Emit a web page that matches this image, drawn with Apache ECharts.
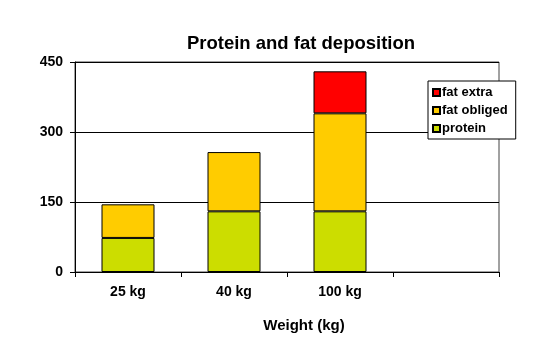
<!DOCTYPE html>
<html><head><meta charset="utf-8">
<script src="https://cdn.jsdelivr.net/npm/echarts@6/dist/echarts.min.js"></script>
<style>html,body{margin:0;padding:0;background:#fff}#c{width:548px;height:350px}</style>
</head><body><div id="c"></div>
<script>
var categories = ['25 kg', '40 kg', '100 kg', ''];
var protein = [73, 130, 130, null];
var fatObliged = [72, 127, 210, null];
var fatExtra = [null, null, 90, null];
var yTicks = [0, 150, 300, 450];

var chart = echarts.init(document.getElementById('c'), null, {renderer: 'canvas'});
var font = 'Liberation Sans, Arial, sans-serif';
var border = {borderColor: '#000', borderWidth: 1};
chart.setOption({
  animation: false,
  backgroundColor: '#fff',
  title: {text: 'Protein and fat deposition', left: 296, textAlign: 'center', top: 29,
    textStyle: {fontFamily: font, fontSize: 18.5, fontWeight: 'bold', color: '#000'}},
  grid: {left: 75, right: 49, top: 62, bottom: 78, show: true, borderColor: '#444', borderWidth: 1},
  legend: {
    data: ['fat extra', 'fat obliged', 'protein'],
    orient: 'vertical', left: 428, top: 81, itemWidth: 7, itemHeight: 7, itemGap: 5,
    icon: 'rect', backgroundColor: '#fff', borderColor: '#000', borderWidth: 1,
    padding: [5, 8, 4, 4],
    textStyle: {fontFamily: font, fontSize: 13, fontWeight: 'bold', color: '#000', padding: [0, 0, 0, -3]}
  },
  xAxis: {
    type: 'category', data: categories,
    name: 'Weight (kg)', nameLocation: 'middle', nameGap: 46,
    nameTextStyle: {fontFamily: font, fontSize: 15, fontWeight: 'bold', color: '#000', padding: [0, 0, 0, 34]},
    axisLine: {lineStyle: {color: '#000', width: 1}},
    axisTick: {show: true, length: 5, lineStyle: {color: '#000'}},
    axisLabel: {fontFamily: font, fontSize: 14, fontWeight: 'bold', color: '#000', margin: 13}
  },
  yAxis: {
    type: 'value', min: 0, max: 450, interval: 150,
    axisLine: {show: true, lineStyle: {color: '#000'}},
    axisTick: {show: true, length: 5, lineStyle: {color: '#000'}},
    splitLine: {lineStyle: {color: '#000', width: 1}},
    axisLabel: {fontFamily: font, fontSize: 14, fontWeight: 'bold', color: '#000', margin: 12,
      formatter: function (v) { return yTicks.indexOf(v) >= 0 ? String(v) : ''; }}
  },
  series: [
    {name: 'protein', type: 'bar', stack: 's', data: protein, barWidth: '50%',
      itemStyle: Object.assign({color: '#CCDD00'}, border)},
    {name: 'fat obliged', type: 'bar', stack: 's', data: fatObliged,
      itemStyle: Object.assign({color: '#FFCC00'}, border)},
    {name: 'fat extra', type: 'bar', stack: 's', data: fatExtra,
      itemStyle: Object.assign({color: '#FF0000'}, border)}
  ]
});
</script></body></html>
